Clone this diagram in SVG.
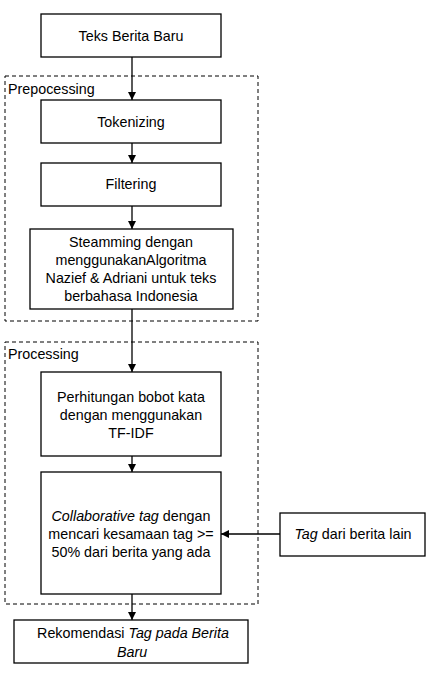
<svg xmlns="http://www.w3.org/2000/svg" width="432" height="674" viewBox="0 0 432 674">
<style>
.box{fill:#fff;stroke:#000;stroke-width:1.3}
.grp{fill:none;stroke:#000;stroke-width:1;stroke-dasharray:4,3}
.t{font-family:"Liberation Sans",Arial,sans-serif;font-size:14.3px;fill:#000;text-anchor:middle}
.l{font-family:"Liberation Sans",Arial,sans-serif;font-size:14.3px;fill:#000}
.c{stroke:#000;stroke-width:1.3;fill:none;marker-end:url(#ah)}
</style>
<defs>
<marker id="ah" viewBox="0 0 10 10" refX="10" refY="5" markerWidth="8" markerHeight="8" markerUnits="userSpaceOnUse" orient="auto">
<path d="M0,0 L10,5 L0,10 z" fill="#000"/>
</marker>
</defs>
<rect width="432" height="674" fill="#fff"/>
<g id="prepocessing">
<rect class="grp" x="5" y="76" width="253" height="245"/>
<text class="l" x="8" y="94">Prepocessing</text>
</g>
<g id="processing">
<rect class="grp" x="5" y="342" width="253" height="262"/>
<text class="l" x="8" y="359">Processing</text>
</g>
<g id="connectors">
<line class="c" x1="132" y1="57" x2="132" y2="100"/>
<line class="c" x1="132" y1="143" x2="132" y2="163"/>
<line class="c" x1="132" y1="206" x2="132" y2="229"/>
<line class="c" x1="132" y1="309" x2="132" y2="372"/>
<line class="c" x1="132" y1="456" x2="132" y2="472"/>
<line class="c" x1="280" y1="534" x2="221" y2="534"/>
<line class="c" x1="132" y1="594" x2="132" y2="620"/>
</g>
<g id="teks">
<rect class="box" x="41" y="14" width="180" height="43"/>
<text class="t" x="131" y="41">Teks Berita Baru</text>
</g>
<g id="tokenizing">
<rect class="box" x="41" y="100" width="180" height="43"/>
<text class="t" x="131" y="127">Tokenizing</text>
</g>
<g id="filtering">
<rect class="box" x="41" y="163" width="180" height="43"/>
<text class="t" x="131" y="189">Filtering</text>
</g>
<g id="steamming">
<rect class="box" x="30" y="229" width="203" height="80"/>
<text class="t" x="131" y="247">Steamming dengan</text>
<text class="t" x="131" y="265">menggunakanAlgoritma</text>
<text class="t" x="131" y="283">Nazief &amp; Adriani untuk teks</text>
<text class="t" x="131" y="301">berbahasa Indonesia</text>
</g>
<g id="perhitungan">
<rect class="box" x="41" y="372" width="180" height="84"/>
<text class="t" x="131" y="402">Perhitungan bobot kata</text>
<text class="t" x="131" y="420">dengan menggunakan</text>
<text class="t" x="131" y="438">TF-IDF</text>
</g>
<g id="collaborative">
<rect class="box" x="41" y="472" width="180" height="122"/>
<text class="t" x="131" y="521"><tspan font-style="italic">Collaborative tag</tspan> dengan</text>
<text class="t" x="131" y="539">mencari kesamaan tag &gt;=</text>
<text class="t" x="131" y="557">50% dari berita yang ada</text>
</g>
<g id="tagLain">
<rect class="box" x="280" y="513" width="145" height="43"/>
<text class="t" x="353" y="539"><tspan font-style="italic">Tag</tspan> dari berita lain</text>
</g>
<g id="rekomendasi">
<rect class="box" x="14" y="620" width="234" height="43"/>
<text class="t" x="133" y="638">Rekomendasi <tspan font-style="italic">Tag pada Berita</tspan></text>
<text class="t" x="132" y="657" font-style="italic">Baru</text>
</g>
</svg>
